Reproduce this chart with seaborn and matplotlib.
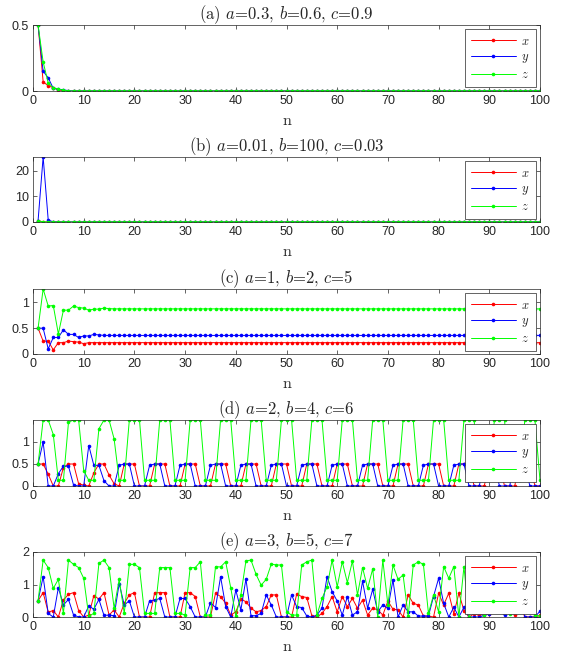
import numpy as np
import pandas as pd
import matplotlib
matplotlib.use("Agg")
import matplotlib.pyplot as plt
import seaborn as sns

sns.set_style("ticks")
plt.rcParams["font.family"] = ["Liberation Sans", "DejaVu Sans"]
plt.rcParams["mathtext.fontset"] = "cm"

n = list(range(1, 101))

# (a) a=0.3, b=0.6, c=0.9
xa = [0.5, 0.071, 0.038, 0.026, 0.008, 0.003] + [0.0] * 94
ya = [0.5, 0.15, 0.10, 0.02, 0.013, 0.01, 0.002] + [0.0] * 93
za = [0.5, 0.22, 0.06, 0.025, 0.015, 0.005, 0.001] + [0.0] * 93

# (b) a=0.01, b=100, c=0.03
xb = [0.5, 0.05, 0.01] + [0.0] * 97
yb = [0.5, 25.3, 0.8, 0.02] + [0.0] * 96
zb = [0.5, 0.02, 0.01] + [0.0] * 97

# (c) a=1, b=2, c=5
xc = [0.5, 0.25, 0.25, 0.08, 0.22, 0.22, 0.25, 0.24, 0.23, 0.20,
      0.22, 0.22, 0.22, 0.22, 0.22, 0.22, 0.22, 0.22, 0.22, 0.22] + [0.22] * 80
yc = [0.5, 0.5, 0.10, 0.32, 0.32, 0.47, 0.38, 0.38, 0.32, 0.35,
      0.35, 0.38, 0.37, 0.36, 0.36, 0.36, 0.36, 0.36, 0.36, 0.36] + [0.36] * 80
zc = [0.5, 1.26, 0.93, 0.94, 0.39, 0.85, 0.85, 0.93, 0.90, 0.89,
      0.85, 0.87, 0.87, 0.89, 0.88, 0.875, 0.875, 0.875, 0.875, 0.875] + [0.875] * 80

# (d) a=2, b=4, c=6
xd = [0.5, 0.5, 0.27, 0.0, 0.0, 0.42, 0.5, 0.5, 0.05, 0.02,
      0.0, 0.3, 0.5, 0.5, 0.25, 0.05, 0.0, 0.5, 0.5, 0.5,
      0.0, 0.0, 0.0, 0.5, 0.5, 0.5, 0.0, 0.0, 0.0, 0.5,
      0.5, 0.5, 0.0, 0.0, 0.0, 0.5, 0.5, 0.5, 0.0, 0.0,
      0.0, 0.5, 0.5, 0.5, 0.0, 0.0, 0.0, 0.5, 0.5, 0.5,
      0.0, 0.0, 0.0, 0.5, 0.5, 0.5, 0.0, 0.0, 0.0, 0.5,
      0.5, 0.5, 0.0, 0.0, 0.0, 0.5, 0.5, 0.5, 0.0, 0.0,
      0.0, 0.5, 0.5, 0.5, 0.0, 0.0, 0.0, 0.5, 0.5, 0.5,
      0.0, 0.0, 0.0, 0.5, 0.5, 0.5, 0.0, 0.0, 0.0, 0.5,
      0.5, 0.5, 0.0, 0.0, 0.0, 0.5, 0.5, 0.5, 0.0, 0.0]
yd = [0.5, 1.0, 0.0, 0.0, 0.28, 0.45, 0.45, 0.02, 0.0, 0.0,
      0.92, 0.47, 0.47, 0.12, 0.0, 0.0, 0.47, 0.5, 0.5, 0.0,
      0.0, 0.0, 0.47, 0.5, 0.5, 0.0, 0.0, 0.0, 0.47, 0.5,
      0.5, 0.0, 0.0, 0.0, 0.47, 0.5, 0.5, 0.0, 0.0, 0.0,
      0.47, 0.5, 0.5, 0.0, 0.0, 0.0, 0.47, 0.5, 0.5, 0.0,
      0.0, 0.0, 0.47, 0.5, 0.5, 0.0, 0.0, 0.0, 0.47, 0.5,
      0.5, 0.0, 0.0, 0.0, 0.47, 0.5, 0.5, 0.0, 0.0, 0.0,
      0.47, 0.5, 0.5, 0.0, 0.0, 0.0, 0.47, 0.5, 0.5, 0.0,
      0.0, 0.0, 0.47, 0.5, 0.5, 0.0, 0.0, 0.0, 0.47, 0.5,
      0.5, 0.0, 0.0, 0.0, 0.47, 0.5, 0.5, 0.0, 0.0, 0.0]
zd = [0.5, 1.5, 1.5, 1.17, 0.13, 0.13, 1.45, 1.5, 1.5, 0.35,
      0.13, 0.13, 1.3, 1.5, 1.5, 1.07, 0.13, 0.13, 1.5, 1.5,
      1.5, 0.13, 0.13, 0.13, 1.5, 1.5, 1.5, 0.13, 0.13, 0.13,
      1.5, 1.5, 1.5, 0.13, 0.13, 0.13, 1.5, 1.5, 1.5, 0.13,
      0.13, 0.13, 1.5, 1.5, 1.5, 0.13, 0.13, 0.13, 1.5, 1.5,
      1.5, 0.13, 0.13, 0.13, 1.5, 1.5, 1.5, 0.13, 0.13, 0.13,
      1.5, 1.5, 1.5, 0.13, 0.13, 0.13, 1.5, 1.5, 1.5, 0.13,
      0.13, 0.13, 1.5, 1.5, 1.5, 0.13, 0.13, 0.13, 1.5, 1.5,
      1.5, 0.13, 0.13, 0.13, 1.5, 1.5, 1.5, 0.13, 0.13, 0.13,
      1.5, 1.5, 1.5, 0.13, 0.13, 0.13, 1.5, 1.5, 1.5, 0.13]

# (e) a=3, b=5, c=7
xe = [0.5, 0.75, 0.15, 0.2, 0.0, 0.52, 0.7, 0.75, 0.2, 0.0,
      0.06, 0.66, 0.55, 0.75, 0.06, 0.22, 0.0, 0.42, 0.68, 0.75,
      0.0, 0.0, 0.0, 0.75, 0.75, 0.75, 0.0, 0.0, 0.0, 0.75,
      0.75, 0.63, 0.0, 0.0, 0.0, 0.73, 0.63, 0.42, 0.06, 0.16,
      0.55, 0.47, 0.27, 0.16, 0.2, 0.32, 0.68, 0.68, 0.0, 0.0,
      0.0, 0.7, 0.63, 0.6, 0.04, 0.0, 0.11, 0.32, 0.63, 0.16,
      0.63, 0.32, 0.57, 0.27, 0.52, 0.06, 0.27, 0.22, 0.06, 0.49,
      0.24, 0.22, 0.0, 0.68, 0.42, 0.37, 0.03, 0.03, 0.0, 0.73,
      0.37, 0.73, 0.1, 0.73, 0.2, 0.0, 0.1, 0.05, 0.1, 0.1,
      0.4, 0.3, 0.25, 0.3, 0.05, 0.4, 0.0, 0.0, 0.0, 0.05]
ye = [0.5, 1.24, 0.11, 0.0, 0.9, 0.37, 0.54, 0.06, 0.0, 0.0,
      0.34, 0.24, 0.54, 0.05, 0.06, 0.04, 1.03, 0.37, 0.5, 0.0,
      0.0, 0.0, 0.5, 0.52, 0.57, 0.0, 0.0, 0.0, 0.57, 0.57,
      0.32, 0.0, 0.0, 0.0, 0.44, 0.29, 1.24, 0.32, 0.0, 0.83,
      0.22, 1.17, 0.04, 0.04, 0.11, 0.68, 0.37, 0.0, 0.0, 0.0,
      0.68, 0.32, 0.29, 0.03, 0.0, 0.06, 0.27, 1.24, 0.78, 0.49,
      0.06, 0.63, 0.06, 0.16, 1.1, 0.27, 0.85, 0.16, 0.37, 0.27,
      1.14, 0.0, 0.37, 0.16, 0.16, 0.03, 0.03, 0.03, 0.63, 1.19,
      0.42, 0.0, 0.3, 0.0, 0.3, 0.0, 0.0, 0.0, 0.05, 0.1,
      0.8, 0.2, 0.05, 0.6, 0.2, 0.9, 0.0, 0.0, 0.0, 0.18]
ze = [0.5, 1.75, 1.52, 0.88, 1.16, 0.11, 1.75, 1.62, 1.52, 1.19,
      0.03, 0.11, 1.65, 1.75, 1.52, 0.27, 1.16, 0.11, 1.62, 1.62,
      1.52, 0.11, 0.11, 0.11, 1.52, 1.52, 1.52, 0.11, 0.11, 0.06,
      1.52, 1.52, 1.7, 0.06, 0.06, 1.55, 1.54, 1.7, 0.9, 0.03,
      0.68, 1.73, 1.75, 1.31, 0.98, 1.16, 1.63, 1.6, 1.6, 0.16,
      0.06, 0.06, 1.6, 1.7, 1.75, 0.06, 0.57, 0.93, 1.75, 0.93,
      1.7, 1.06, 1.72, 0.68, 1.52, 0.88, 1.48, 0.0, 1.75, 0.37,
      1.6, 1.16, 1.29, 0.03, 1.6, 1.7, 1.62, 0.11, 0.68, 0.16,
      1.55, 1.19, 1.55, 0.0, 1.55, 0.0, 1.6, 0.8, 0.05, 1.5,
      1.7, 0.5, 1.6, 0.1, 1.7, 1.2, 0.3, 1.63, 0.05, 0.03]

titles = [r"(a) $a$=0.3, $b$=0.6, $c$=0.9",
          r"(b) $a$=0.01, $b$=100, $c$=0.03",
          r"(c) $a$=1, $b$=2, $c$=5",
          r"(d) $a$=2, $b$=4, $c$=6",
          r"(e) $a$=3, $b$=5, $c$=7"]
series = [(xa, ya, za), (xb, yb, zb), (xc, yc, zc), (xd, yd, zd), (xe, ye, ze)]
ylims = [(0, 0.5), (0, 25.3), (0, 1.26), (0, 1.5), (0, 2)]
yticks = [[0, 0.5], [0, 10, 20], [0, 0.5, 1], [0, 0.5, 1], [0, 1, 2]]
ytlabels = [["0", "0.5"], ["0", "10", "20"], ["0", "0.5", "1"], ["0", "0.5", "1"], ["0", "1", "2"]]

colors = {"x": "#ff0000", "y": "#0000ff", "z": "#00ff00"}
W, H = 564, 655
fig = plt.figure(figsize=(W / 100, H / 100), dpi=100)

tops = [25, 157, 289, 420, 552]
bottoms = [91, 222, 354, 486, 617]
left, right = 33, 540
ink = "#262626"

for i in range(5):
    ax = fig.add_axes([left / W, 1 - bottoms[i] / H, (right - left) / W, (bottoms[i] - tops[i]) / H])
    xs, ys, zs = series[i]
    df = pd.DataFrame({"n": n, "x": xs, "y": ys, "z": zs})
    for key in ["x", "y", "z"]:
        sns.lineplot(data=df, x="n", y=key, ax=ax, color=colors[key], linewidth=0.7,
                     marker="o", markersize=2.6, markeredgewidth=0, label=f"${key}$")
    ax.set_xlim(0, 100)
    ax.set_ylim(*ylims[i])
    ax.set_xticks(range(0, 101, 10))
    ax.set_yticks(yticks[i])
    ax.set_yticklabels(ytlabels[i])
    ax.tick_params(direction="in", length=3, width=0.5, colors=ink, labelsize=9,
                   top=True, right=True, pad=3)
    for s in ax.spines.values():
        s.set_visible(True)
        s.set_linewidth(0.5)
        s.set_color(ink)
    ax.set_ylabel("")
    ax.set_xlabel("n", fontfamily="cmr10", fontsize=11.5, labelpad=5)
    ax.set_title(titles[i], fontfamily="cmr10", fontsize=12, pad=4)
    leg = ax.legend(loc="upper right", fontsize=9, handlelength=3.6, labelspacing=0.3,
                    borderaxespad=0.35, fancybox=False, framealpha=1, edgecolor=ink,
                    borderpad=0.5, handletextpad=0.4)
    leg.get_frame().set_linewidth(0.5)

fig.savefig("out.png", dpi=100, facecolor="white")
